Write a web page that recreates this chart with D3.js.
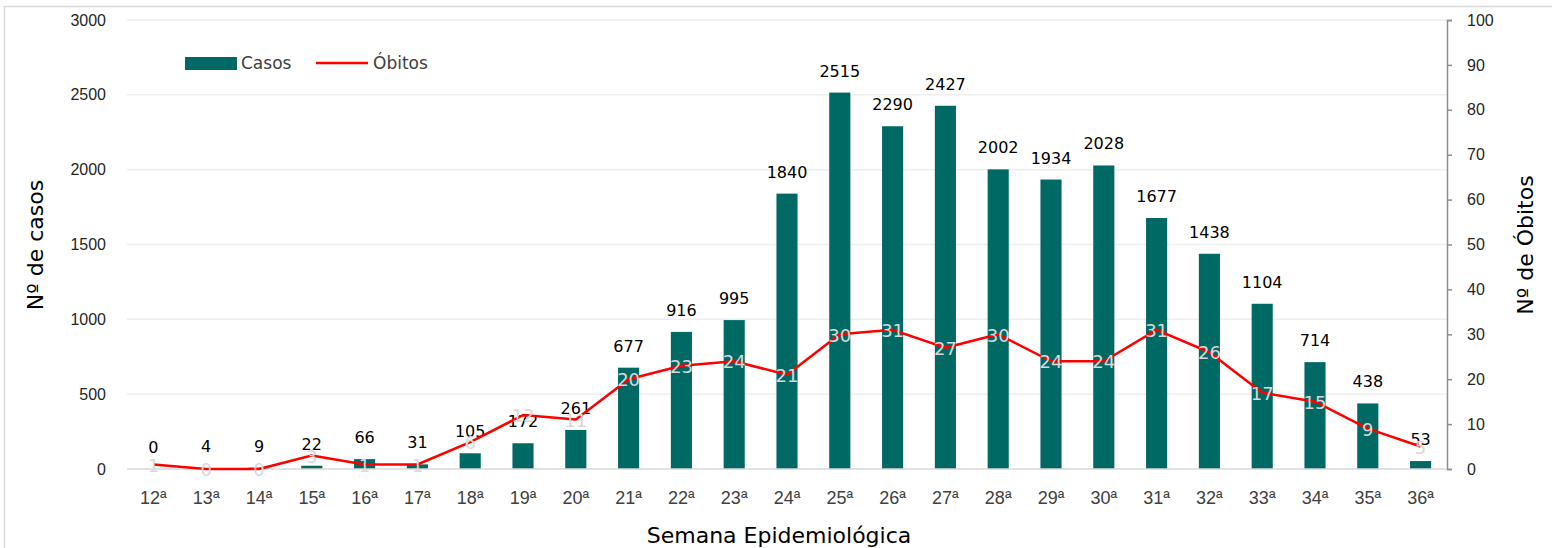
<!DOCTYPE html>
<html>
<head>
<meta charset="utf-8">
<script src="https://cdn.jsdelivr.net/npm/d3@7"></script>
<style>
  body { margin: 0; background: #fff; }
  svg { font-family: "DejaVu Sans", sans-serif; }
</style>
</head>
<body>
<script>
var width = 1552,
  height = 548;

// weeks, cases, deaths
var semanas = ["12ª","13ª","14ª","15ª","16ª","17ª","18ª","19ª","20ª","21ª","22ª","23ª","24ª",
  "25ª","26ª","27ª","28ª","29ª","30ª","31ª","32ª","33ª","34ª","35ª","36ª"];
var casos = [0, 4, 9, 22, 66, 31, 105, 172, 261, 677, 916, 995, 1840,
  2515, 2290, 2427, 2002, 1934, 2028, 1677, 1438, 1104, 714, 438, 53];
var obitos = [1, 0, 0, 3, 1, 1, 6, 12, 11, 20, 23, 24, 21,
  30, 31, 27, 30, 24, 24, 31, 26, 17, 15, 9, 5];
var casosTicks = [0, 500, 1000, 1500, 2000, 2500, 3000];
var obitosTicks = [0, 10, 20, 30, 40, 50, 60, 70, 80, 90, 100];

var margin = {left: 127, right: 105, top: 20, bottom: 79};
var plotW = width - margin.left - margin.right,
  plotH = height - margin.top - margin.bottom;

var svg = d3.select("body").append("svg")
  .attr("width", width)
  .attr("height", height);

// outer frame
svg.append("rect")
  .attr("x", 4.5).attr("y", 6.5)
  .attr("width", width + 10).attr("height", height + 10)
  .attr("fill", "none").attr("stroke", "#d9d9d9").attr("stroke-width", 1.5);

var g = svg.append("g").attr("transform", "translate(" + margin.left + "," + margin.top + ")");

var x = d3.scaleBand().domain(semanas).range([0, plotW]).paddingInner(0.6).paddingOuter(0.3);
var y = d3.scaleLinear().domain([0, 3000]).range([plotH, 0]);
var y2 = d3.scaleLinear().domain([0, 100]).range([plotH, 0]);

// grid lines
g.selectAll(".grid").data(casosTicks.slice(1)).enter().append("line")
  .attr("x1", 0).attr("x2", plotW)
  .attr("y1", function(d){return y(d)}).attr("y2", function(d){return y(d)})
  .attr("stroke", "#eeeeee").attr("stroke-width", 1.5);

// left axis (labels only)
var yAxis = g.append("g")
  .call(d3.axisLeft(y).tickValues(casosTicks).tickFormat(d3.format("d")).tickSize(0).tickPadding(21));
yAxis.select(".domain").remove();
yAxis.selectAll("text").attr("font-size", 16).attr("fill", "#262626");

// right axis
var yAxis2 = g.append("g").attr("transform", "translate(" + plotW + ",0)")
  .call(d3.axisRight(y2).tickValues(obitosTicks).tickSizeOuter(0).tickSize(5).tickPadding(15));
yAxis2.select(".domain").attr("stroke", "#8c8c8c").attr("stroke-width", 1.5);
yAxis2.selectAll("line").attr("stroke", "#8c8c8c").attr("stroke-width", 1.5);
yAxis2.selectAll("text").attr("font-size", 16).attr("fill", "#262626");

// bars
g.selectAll(".bar").data(casos).enter().append("rect")
  .attr("x", function(d, i){return x(semanas[i])})
  .attr("y", function(d){return y(d)})
  .attr("width", x.bandwidth())
  .attr("height", function(d){return plotH - y(d)})
  .attr("fill", "#006963");

// baseline
g.append("line").attr("x1", 0).attr("x2", plotW)
  .attr("y1", plotH).attr("y2", plotH)
  .attr("stroke", "#d9d9d9").attr("stroke-width", 1.5);

// x labels
var xAxis = g.append("g").attr("transform", "translate(0," + plotH + ")")
  .call(d3.axisBottom(x).tickSize(0).tickPadding(22));
xAxis.select(".domain").remove();
xAxis.selectAll("text").attr("font-size", 18).attr("fill", "#404040");

// case labels
g.selectAll(".clab").data(casos).enter().append("text")
  .attr("x", function(d, i){return x(semanas[i]) + x.bandwidth() / 2})
  .attr("y", function(d){return y(d) - 16})
  .attr("text-anchor", "middle")
  .attr("font-size", 16)
  .attr("fill", "#000")
  .text(function(d){return d});

// deaths line
var line = d3.line()
  .x(function(d, i){return x(semanas[i]) + x.bandwidth() / 2})
  .y(function(d){return y2(d)});
g.append("path").datum(obitos)
  .attr("d", line)
  .attr("fill", "none")
  .attr("stroke", "#ff0000")
  .attr("stroke-width", 2.5)
  .attr("stroke-linejoin", "round");

// death labels
g.selectAll(".olab").data(obitos).enter().append("text")
  .attr("x", function(d, i){return x(semanas[i]) + x.bandwidth() / 2})
  .attr("y", function(d){return y2(d)})
  .attr("dy", "0.4em")
  .attr("text-anchor", "middle")
  .attr("font-size", 18)
  .attr("fill", "#d9d9d9")
  .text(function(d){return d});

// axis titles
svg.append("text")
  .attr("transform", "translate(43,245) rotate(-90)")
  .attr("text-anchor", "middle")
  .attr("font-size", 22)
  .attr("fill", "#000")
  .text("Nº de casos");
svg.append("text")
  .attr("transform", "translate(1533,245) rotate(-90)")
  .attr("text-anchor", "middle")
  .attr("font-size", 22)
  .attr("fill", "#000")
  .text("Nº de Óbitos");
svg.append("text")
  .attr("x", 779).attr("y", 543)
  .attr("text-anchor", "middle")
  .attr("font-size", 22)
  .attr("fill", "#000")
  .text("Semana Epidemiológica");

// legend
var leg = svg.append("g");
leg.append("rect").attr("x", 185).attr("y", 57).attr("width", 52).attr("height", 13).attr("fill", "#006963");
leg.append("text").attr("x", 241).attr("y", 69).attr("font-size", 17).attr("fill", "#404040").text("Casos");
leg.append("line").attr("x1", 316).attr("x2", 368).attr("y1", 63).attr("y2", 63)
  .attr("stroke", "#ff0000").attr("stroke-width", 2.5);
leg.append("text").attr("x", 373).attr("y", 69).attr("font-size", 17).attr("fill", "#404040").text("Óbitos");
</script>
</body>
</html>
